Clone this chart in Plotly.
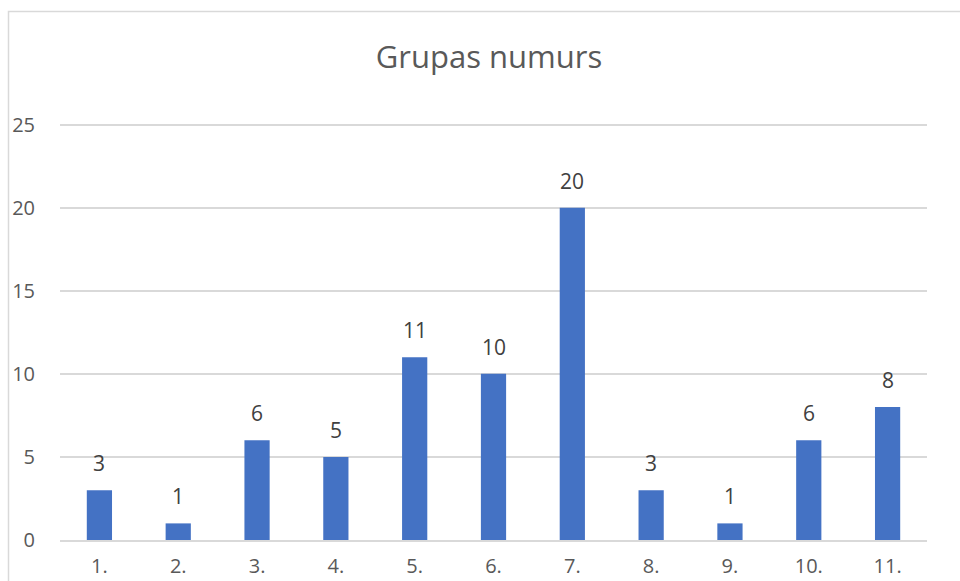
import plotly.graph_objects as go

categories = ["1.", "2.", "3.", "4.", "5.", "6.", "7.", "8.", "9.", "10.", "11."]
values = [3, 1, 6, 5, 11, 10, 20, 3, 1, 6, 8]
y_ticks = [0, 5, 10, 15, 20, 25]

W, H = 960, 581
y_top = 25.1
L, R = 60, W - 927
B = H - 540
ph = 415 * y_top / 25
T = H - B - ph
pw = W - L - R

fig = go.Figure(go.Bar(
    x=categories, y=values,
    marker=dict(color="#4472C4", line=dict(width=0)),
    cliponaxis=False,
))

for i, v in enumerate(values):
    fig.add_annotation(x=i, y=v, text=str(v), showarrow=False, yanchor="bottom", yshift=11,
                       font=dict(family="Open Sans", size=21, color="#404040"))

fig.update_layout(
    width=W, height=H,
    margin=dict(l=L, r=R, t=T, b=B, pad=0, autoexpand=False),
    paper_bgcolor="white", plot_bgcolor="white",
    bargap=0.68,
    showlegend=False,
    title=dict(text="Grupas numurs", x=489 / W, xanchor="center", y=1 - 57 / H, yanchor="middle",
               font=dict(family="Open Sans", size=31, color="#595959")),
    xaxis=dict(type="category", showgrid=False, showline=True, linecolor="#d9d9d9", linewidth=1.5,
               automargin=False,
               tickfont=dict(family="Open Sans", size=20, color="#595959"),
               ticks="", ticklabelstandoff=7),
    yaxis=dict(range=[0, y_top], tickvals=y_ticks, showgrid=True, gridcolor="#d9d9d9", gridwidth=1.5,
               zeroline=False, showline=False, automargin=False,
               tickfont=dict(family="Open Sans", size=20, color="#595959"),
               ticks="", ticklabelstandoff=24),
    shapes=[dict(type="rect", xref="paper", yref="paper",
                 x0=(8.5 - L) / pw, x1=(W + 20 - L) / pw,
                 y0=(540 - (H + 20)) / ph, y1=(540 - 12) / ph,
                 line=dict(color="#d9d9d9", width=1.5), fillcolor="rgba(0,0,0,0)", layer="below")],
)

fig.write_html("out.html", config={"displayModeBar": False},
               post_script="document.body.style.margin='0';document.body.style.overflow='hidden';")
